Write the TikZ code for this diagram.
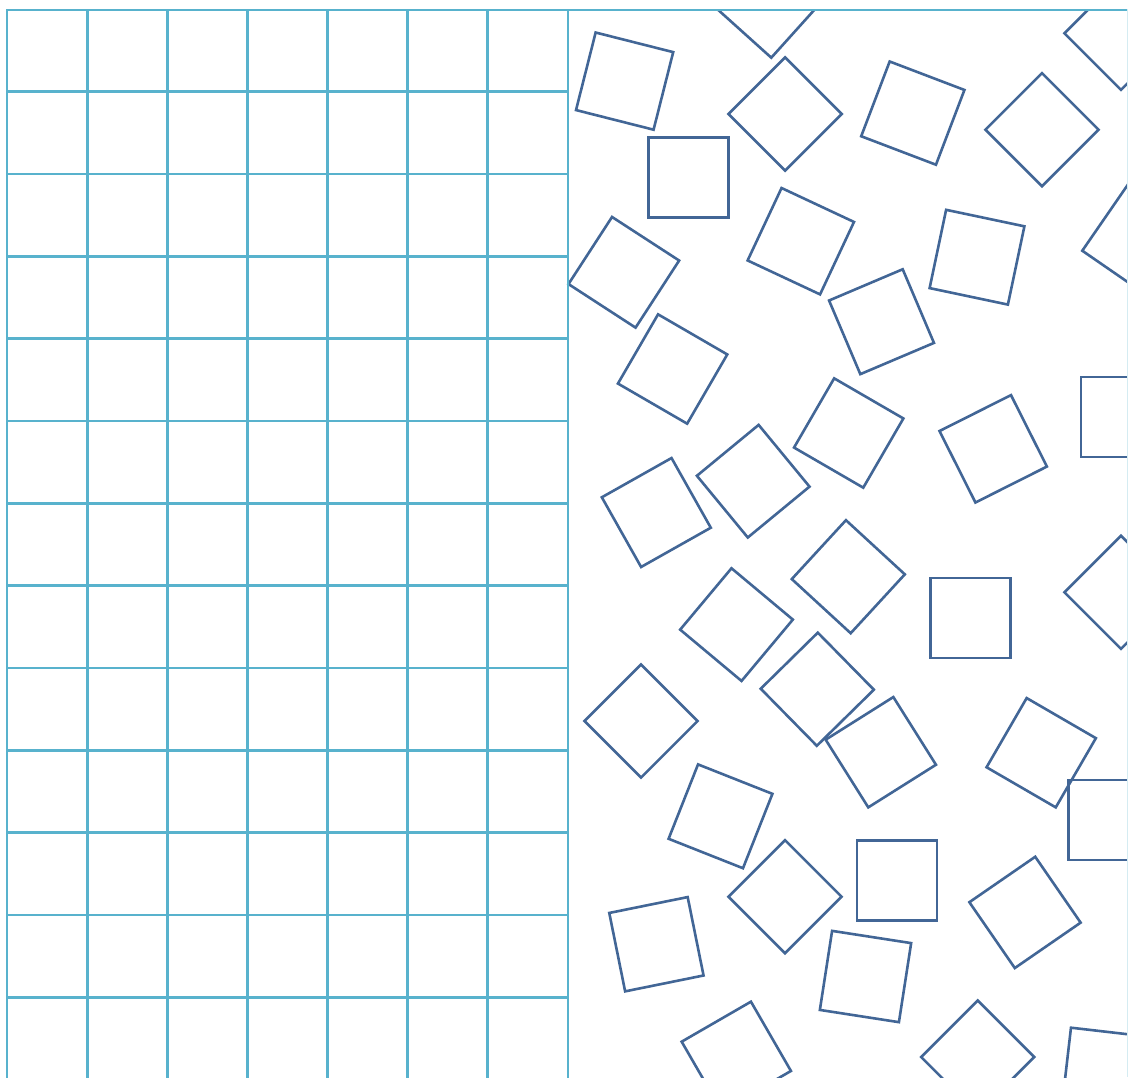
\documentclass[tikz,border=0pt]{standalone}
\definecolor{gridcol}{RGB}{88,178,205}
\definecolor{sqcol}{RGB}{66,102,150}
\begin{document}
\begin{tikzpicture}[x=0.5pt,y=-0.5pt,
  gridline/.style={draw=gridcol,line width=1.4pt},
  sqline/.style={draw=sqcol,line width=1.3pt,line join=miter}]
\useasboundingbox (0,0) rectangle (1128,1077);
\begin{scope}
\clip (0,9) rectangle (1128,1077);
% scattered squares
\foreach \cx/\cy/\ang in {
 768.3/1.2/42, 624.6/81.1/14.2, 688.3/177.3/0, 785.1/114/45,
 912.8/113.1/20.85, 1042/129.7/45, 1121/33.3/45, 623.8/272.3/33,
 800.8/241.2/25.1, 977/257.2/11.9, 1137.9/240.5/34.6, 881.5/321.7/-23,
 672.6/369/30.1, 848.7/433/30.1, 753.2/481.2/-39.5, 656.3/512.5/-29.4,
 993.2/448.8/-26.7, 1121/417/0, 736.5/624.6/39.9, 641/721/45,
 817.3/689.2/45.5, 848.3/576.7/42.6, 720.5/816.3/21.6, 970.3/618/0,
 1121/592.3/45, 880.8/752.2/-32.2, 1041.2/752.7/30.1, 1108.3/820/0,
 785/896.7/45, 656.4/944.2/-11.45, 865.5/976.5/8.8, 736.3/1056.3/-30,
 897/880.2/0, 1025/912.4/-34.6, 977.7/1057/45, 1106.1/1072/6.6}
{
  \draw[sqline,shift={(\cx,\cy)},rotate=-\ang]
    (-40,-40) -- (40,-40) -- (40,40) -- (-40,40) -- cycle;
}
% grid
\foreach \k in {0,...,7}
  \draw[gridline] ({7+80.143*\k},9.3) -- ({7+80.143*\k},1080);
\foreach \k in {1,...,12}
  \draw[gridline] (7,{9.3+82.33*\k}) -- (568,{9.3+82.33*\k});
\draw[gridline] (7,9.3) -- (1128,9.3);
\draw[draw=gridcol!25,line width=0.6pt] (1127.4,9.3) -- (1127.4,1077);
\end{scope}
\end{tikzpicture}
\end{document}
